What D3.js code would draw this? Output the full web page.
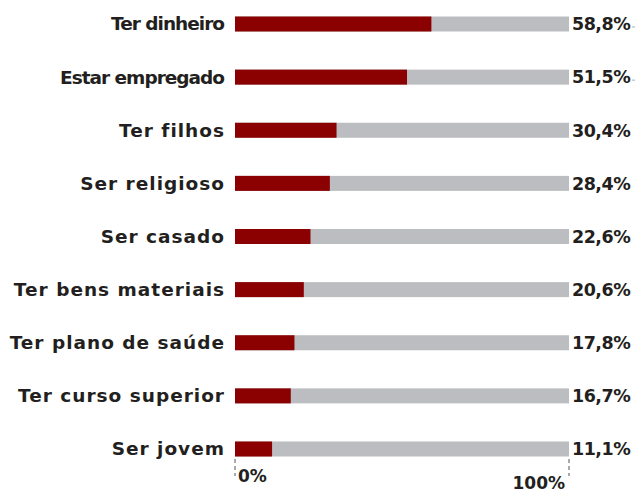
<!DOCTYPE html>
<html>
<head>
<meta charset="utf-8">
<script src="https://cdn.jsdelivr.net/npm/d3@7"></script>
<style>
  body { margin: 0; background: #fff; }
  text { font-family: "DejaVu Sans", sans-serif; font-weight: bold; fill: #231f20; }
</style>
</head>
<body>
<div id="chart"></div>
<script>
const width = 635,
      height = 492;
const categories = ["Ter dinheiro", "Estar empregado", "Ter filhos", "Ser religioso", "Ser casado",
  "Ter bens materiais", "Ter plano de saúde", "Ter curso superior", "Ser jovem"];
const values = [58.8, 51.5, 30.4, 28.4, 22.6, 20.6, 17.8, 16.7, 11.1];
const valueLabels = ["58,8%", "51,5%", "30,4%", "28,4%", "22,6%", "20,6%", "17,8%", "16,7%", "11,1%"];
const tickValues = [0, 100];
const tickLabels = ["0%", "100%"];

const barH = 15;

const svg = d3.select("#chart")
  .append("svg")
  .attr("width", width)
  .attr("height", height);

const x = d3.scaleLinear().domain([0, 100]).range([235, 569]);
const y = d3.scalePoint().domain(categories).range([24, 449]);

const rows = svg.selectAll(".row")
  .data(categories)
  .enter()
  .append("g")
  .attr("class", "row")
  .attr("transform", d => `translate(0, ${y(d)})`);

// fundo cinza até 100%
rows.append("rect")
  .attr("x", x(0))
  .attr("y", -barH / 2)
  .attr("width", x(100) - x(0))
  .attr("height", barH)
  .attr("fill", "#bcbdc0");

rows.append("rect")
  .attr("x", x(0))
  .attr("y", -barH / 2)
  .attr("width", (d, i) => x(values[i]) - x(0))
  .attr("height", barH)
  .attr("fill", "#8b0000");

// os dois primeiros rótulos são mais apertados no original
rows.append("text")
  .attr("x", (d, i) => i < 2 ? x(0) - 11 : x(0) - 10)
  .attr("dy", "0.35em")
  .attr("text-anchor", "end")
  .attr("font-size", "18.5px")
  .attr("letter-spacing", (d, i) => i < 2 ? "-1px" : "1px")
  .text(d => d);

rows.append("text")
  .attr("x", x(100) + 3)
  .attr("dy", "0.36em")
  .attr("font-size", "17.5px")
  .attr("letter-spacing", "-0.5px")
  .text((d, i) => valueLabels[i]);

rows.filter((d, i) => i < 2)
  .append("line")
  .attr("x1", 632)
  .attr("x2", 635)
  .attr("y1", 3)
  .attr("y2", 3)
  .attr("stroke", "#999")
  .attr("stroke-width", 0.8);

// eixo de baixo
const axis = svg.append("g")
  .attr("class", "axis");

axis.selectAll("line")
  .data(tickValues)
  .enter()
  .append("line")
  .attr("x1", d => x(d))
  .attr("x2", d => x(d))
  .attr("y1", 459)
  .attr("y2", 476)
  .attr("stroke", "#555")
  .attr("stroke-width", 1)
  .attr("stroke-dasharray", "4,3");

axis.selectAll("text")
  .data(tickValues)
  .enter()
  .append("text")
  .attr("x", d => d === 0 ? x(d) + 3 : x(d) - 4)
  .attr("y", (d, i) => i === 0 ? 482 : 489)
  .attr("text-anchor", d => d === 0 ? "start" : "end")
  .attr("font-size", "17px")
  .text((d, i) => tickLabels[i]);
</script>
</body>
</html>
